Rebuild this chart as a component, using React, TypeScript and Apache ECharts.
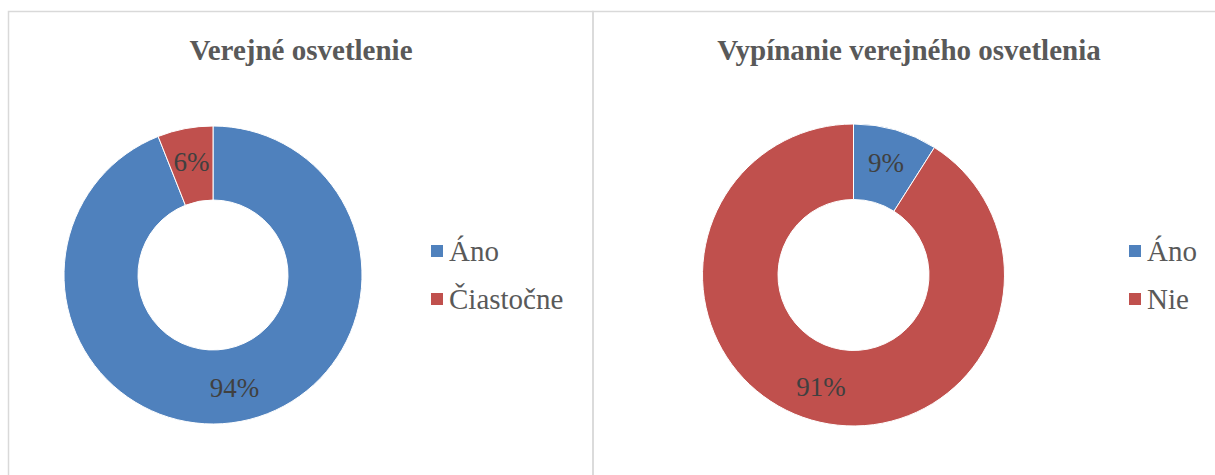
import React, { useEffect, useRef } from "react";
import * as echarts from "echarts";

const leftTitle = "Verejné osvetlenie";
const rightTitle = "Vypínanie verejného osvetlenia";
const leftCategories = ["Áno", "Čiastočne"];
const leftValues = [94, 6];
const rightCategories = ["Áno", "Nie"];
const rightValues = [9, 91];
const sliceColors = ["#4F81BD", "#C0504D"];

const FONT = "Liberation Serif";

function buildData(cats: string[], vals: number[]) {
  return cats.map((name, i) => ({
    name,
    value: vals[i],
    itemStyle: { color: sliceColors[i] },
  }));
}

export default function App() {
  const ref = useRef<HTMLDivElement>(null);

  useEffect(() => {
    if (!ref.current) return;
    const chart = echarts.init(ref.current, undefined, { renderer: "svg" });

    const titleStyle = {
      fontFamily: FONT,
      fontSize: 29,
      fontWeight: "bold" as const,
      color: "#595959",
      lineHeight: 29,
    };
    const legendText = {
      fontFamily: FONT,
      fontSize: 29,
      color: "#595959",
      lineHeight: 29,
    };
    const labelStyle = {
      show: true,
      position: "inside" as const,
      formatter: "{c}%",
      fontFamily: FONT,
      fontSize: 27,
      color: "#404040",
    };

    chart.setOption({
      animation: false,
      backgroundColor: "#ffffff",
      textStyle: { fontFamily: FONT },
      graphic: [
        {
          type: "rect",
          shape: { x: 8.5, y: 11.5, width: 584.5, height: 520 },
          style: { fill: "none", stroke: "#D9D9D9", lineWidth: 1.5 },
          silent: true,
        },
        {
          type: "rect",
          shape: { x: 593, y: 11.5, width: 700, height: 520 },
          style: { fill: "none", stroke: "#D9D9D9", lineWidth: 1.5 },
          silent: true,
        },
      ],
      title: [
        {
          text: leftTitle,
          left: 301,
          top: 35,
          textAlign: "center",
          padding: 0,
          textStyle: titleStyle,
        },
        {
          text: rightTitle,
          left: 909,
          top: 35,
          textAlign: "center",
          padding: 0,
          textStyle: titleStyle,
        },
      ],
      legend: [
        {
          data: leftCategories,
          orient: "vertical",
          left: 429,
          top: 236.5,
          padding: 0,
          icon: "rect",
          itemWidth: 14,
          itemHeight: 14,
          itemGap: 19,
          selectedMode: false,
          textStyle: legendText,
        },
        {
          data: rightCategories,
          orient: "vertical",
          left: 1127,
          top: 236.5,
          padding: 0,
          icon: "rect",
          itemWidth: 14,
          itemHeight: 14,
          itemGap: 19,
          selectedMode: false,
          textStyle: legendText,
        },
      ],
      series: [
        {
          type: "pie",
          name: leftTitle,
          center: [213, 275],
          radius: [75, 149],
          startAngle: 90,
          clockwise: true,
          avoidLabelOverlap: false,
          silent: true,
          itemStyle: { borderColor: "#ffffff", borderWidth: 1 },
          label: labelStyle,
          labelLine: { show: false },
          emphasis: { disabled: true },
          data: buildData(leftCategories, leftValues),
        },
        {
          type: "pie",
          name: rightTitle,
          center: [853.5, 275],
          radius: [75.5, 151],
          startAngle: 90,
          clockwise: true,
          avoidLabelOverlap: false,
          silent: true,
          itemStyle: { borderColor: "#ffffff", borderWidth: 1 },
          label: labelStyle,
          labelLine: { show: false },
          emphasis: { disabled: true },
          data: buildData(rightCategories, rightValues),
        },
      ],
    });

    return () => {
      chart.dispose();
    };
  }, []);

  return (
    <div
      ref={ref}
      style={{
        position: "absolute",
        left: 0,
        top: 0,
        width: 1215,
        height: 475,
        background: "#ffffff",
      }}
    />
  );
}
